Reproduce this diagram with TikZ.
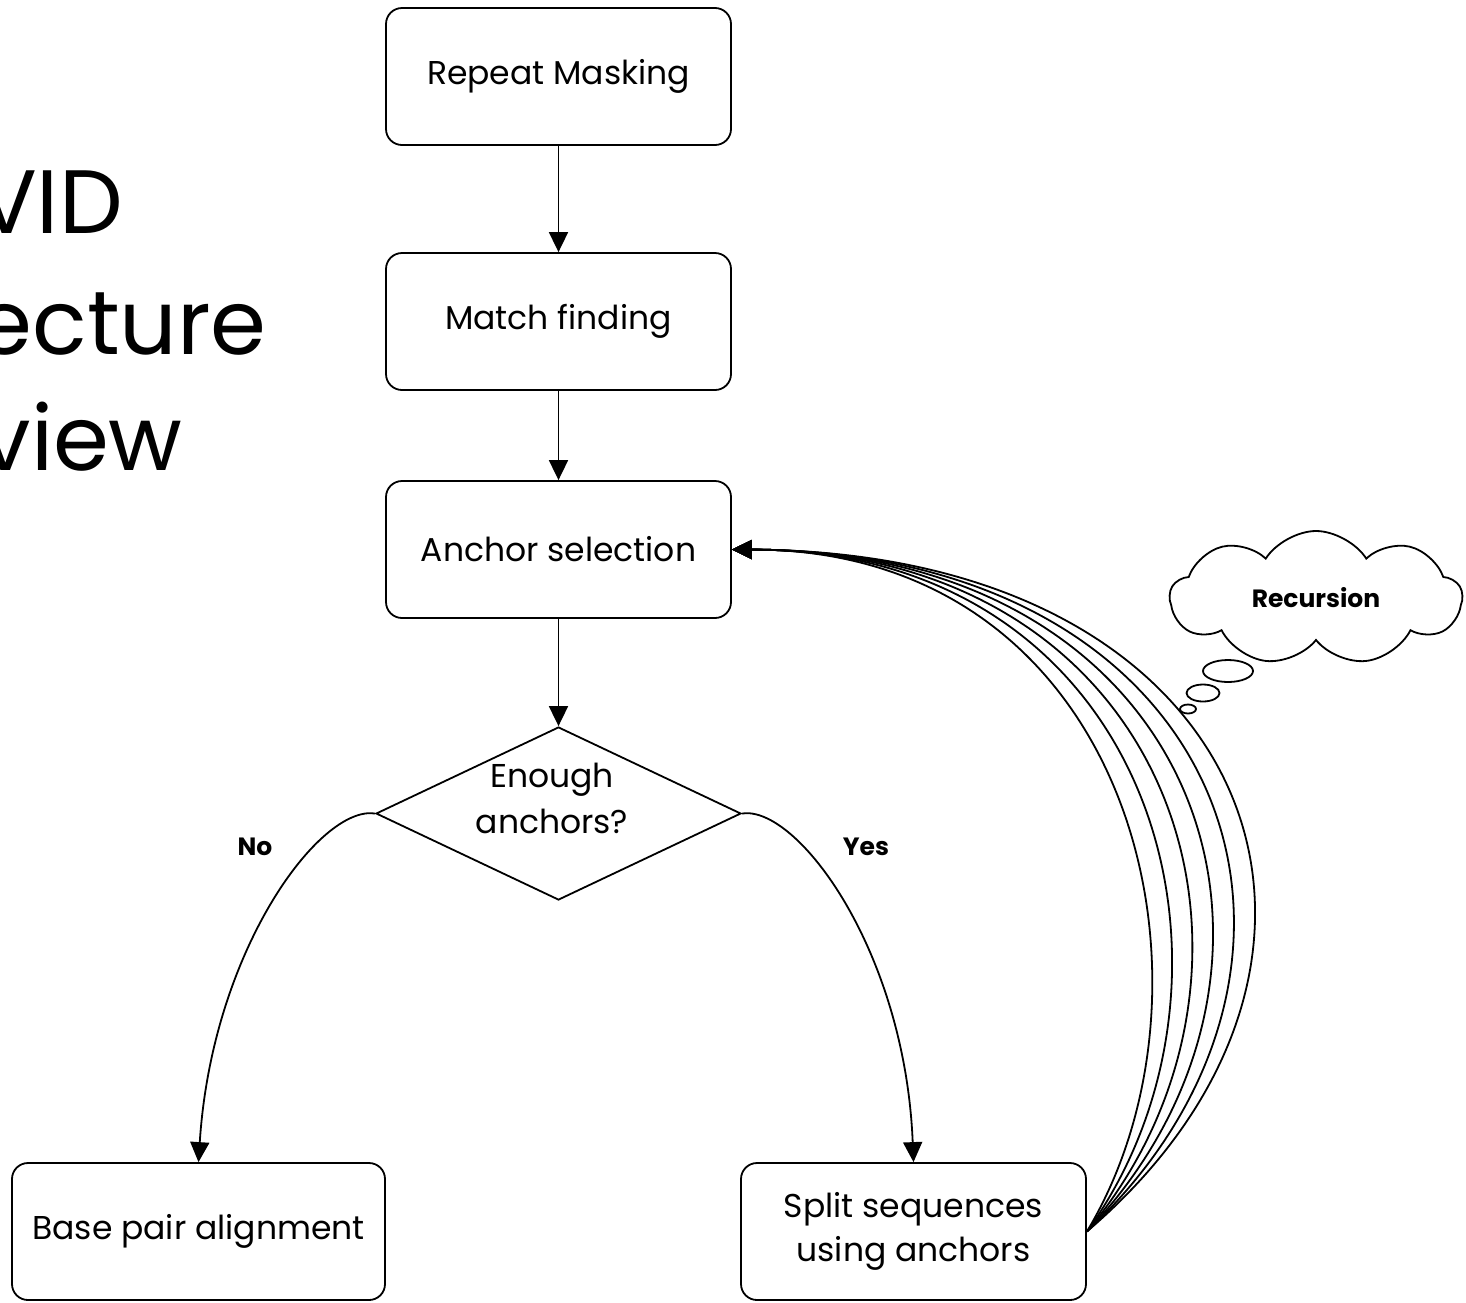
\documentclass[tikz,border=0pt]{standalone}
\usepackage{fontspec}
\setmainfont{Poppins}
\usetikzlibrary{arrows.meta,shapes.geometric,shapes.symbols}
\begin{document}
\begin{tikzpicture}[x=1pt,y=-1pt,
  line width=1.8pt,
  stepbox/.style={draw, rounded corners=16pt, minimum width=345pt, minimum height=137pt,
    inner sep=0pt, align=center, font=\fontsize{33}{44}\selectfont},
  decision/.style={draw, diamond, minimum width=365pt, minimum height=173pt, inner sep=0pt},
  flow/.style={-{Triangle[length=20pt,width=19pt]}},
  answer/.style={font=\fontsize{25}{30}\selectfont\bfseries},
  title/.style={anchor=base east, font=\fontsize{90}{110}\selectfont},
  bubble/.style={draw, ellipse, inner sep=0pt}]
\useasboundingbox (0,0) rectangle (1466,1302);
\clip (0,0) rectangle (1466,1302);

% slide title (runs off the left edge)
\node[title] (t1) at (127,233) {AVID};
\node[title] (t2) at (271,354) {Architecture};
\node[title] (t3) at (187,470) {Overview};

% pipeline steps
\node[stepbox] (mask)   at (558.5,76.5)  {Repeat Masking};
\node[stepbox] (match)  at (558.5,321.5) {Match finding};
\node[stepbox] (anchor) at (558.5,549.5) {Anchor selection};
\node[decision] (enough) at (558.5,813.5) {};
\node[align=center, font=\fontsize{33}{46}\selectfont] (enoughtxt) at (552,798) {Enough\\anchors?};
\node[stepbox, minimum width=373pt] (base) at (198.5,1231.5) {Base pair alignment};
\node[stepbox] (split) at (913.5,1231.5) {Split sequences\\using anchors};

\draw[flow] (mask) -- (match);
\draw[flow] (match) -- (anchor);
\draw[flow] (anchor) -- (enough);

% branches of the decision
\draw[flow] (enough.west) .. controls (320,805) and (212,950) .. (base.north);
\draw[flow] (enough.east) .. controls (797,805) and (905,950) .. (split.north);
\node[answer] (no)  at (255,847) {No};
\node[answer] (yes) at (866,847) {Yes};

% recursive calls back to anchor selection
\foreach \i in {0,...,5}{
  \draw[flow] (split.east) .. controls ({1235+34*\i},{985-5*\i}) and ({1135+25*\i},{549.5+0.5*\i}) .. (anchor.east);
}

% thought cloud
\node[draw, cloud, cloud puffs=9, cloud puff arc=115, aspect=2.2,
      minimum width=292pt, minimum height=134pt, inner sep=0pt,
      font=\fontsize{25}{30}\selectfont\bfseries] (cloud) at (1316,598) {Recursion};
\node[bubble, minimum width=50pt, minimum height=22pt] (b1) at (1228,671) {};
\node[bubble, minimum width=33pt, minimum height=17pt] (b2) at (1203,693) {};
\node[bubble, minimum width=16pt, minimum height=9pt]  (b3) at (1188,709) {};
\end{tikzpicture}
\end{document}
